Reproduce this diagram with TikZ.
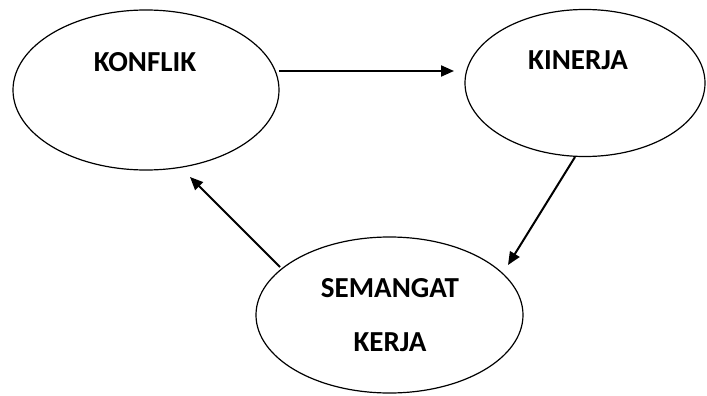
\documentclass[tikz,border=0pt]{standalone}
\usepackage{fontspec}
\setmainfont{Carlito}
\usetikzlibrary{shapes.geometric,arrows.meta}
\begin{document}
\begin{tikzpicture}[x=1pt,y=-1pt,
  oval/.style={draw,ellipse,line width=1.2pt,inner sep=0pt},
  lbl/.style={font=\fontsize{29}{31}\selectfont\bfseries},
  link/.style={line width=2pt,-{Triangle[length=13pt,width=11pt]}}]
  \useasboundingbox (0,0) rectangle (707,396);
  % ovals
  \node[oval,minimum width=266pt,minimum height=160pt] (konflik) at (146,90) {};
  \node[oval,minimum width=240pt,minimum height=147pt] (kinerja) at (585,83) {};
  \node[oval,minimum width=267pt,minimum height=156pt] (semangat) at (389.5,315) {};
  % titles
  \node[lbl] (tkonflik) at (145,62) {KONFLIK};
  \node[lbl] (tkinerja) at (578,60) {KINERJA};
  \node[lbl] (tsemangat) at (390,288) {SEMANGAT};
  \node[lbl] (tkerja) at (390,342) {KERJA};
  % arrow end points
  \coordinate (a1s) at (279,71);
  \coordinate (a1e) at (454,71);
  \coordinate (a2s) at (575,157);
  \coordinate (a2e) at (508,265);
  \coordinate (a3s) at (280,267);
  \coordinate (a3e) at (190,177);
  \draw[link] (a1s) -- (a1e);
  \draw[link] (a2s) -- (a2e);
  \draw[link] (a3s) -- (a3e);
\end{tikzpicture}
\end{document}
